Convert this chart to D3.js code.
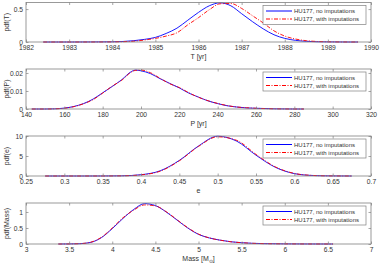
<!DOCTYPE html>
<html><head><meta charset="utf-8">
<script src="https://cdn.jsdelivr.net/npm/d3@7"></script>
<style>body{margin:0;background:#fff}svg{display:block}text{font-family:Arial,"Liberation Sans",sans-serif}</style>
</head><body><svg id="c" width="381" height="266"></svg>
<script>
// Panel 1: T [yr]
const T_x = [1982.4,1983,1983.5,1984,1984.25,1984.5,1984.75,1985,1985.25,1985.5,1985.75,1986,1986.25,1986.5,1986.75,1987,1987.25,1987.5,1987.75,1988,1988.25,1988.5,1988.75,1989,1989.5,1989.7];
const T_noImp = [0,0,0.001,0.003,0.008,0.02,0.04,0.07,0.13,0.21,0.33,0.45,0.55,0.595,0.55,0.43,0.31,0.20,0.11,0.055,0.025,0.01,0.004,0.002,0,0];
const T_imp   = [0,0,0,0.002,0.005,0.012,0.03,0.055,0.09,0.14,0.26,0.37,0.49,0.58,0.585,0.51,0.40,0.29,0.17,0.09,0.045,0.02,0.008,0.003,0,0];
const T_xticks = [1982,1983,1984,1985,1986,1987,1988,1989,1990];
const T_yticks = [0,0.5];
// Panel 2: P [yr]
const P_x = [143,150,155,160,165,170,175,180,185,190,195,197,200,205,210,215,220,225,230,235,240,245,250,255,260,270,280,285];
const P_noImp = [0,0,0.0001,0.0005,0.0014,0.003,0.0055,0.009,0.0125,0.0163,0.0208,0.0216,0.0212,0.0196,0.0168,0.0142,0.0117,0.0088,0.0066,0.0045,0.003,0.0018,0.0011,0.0006,0.0004,0.0001,0,0];
const P_imp   = [0,0,0.0001,0.0004,0.0013,0.0029,0.0052,0.0088,0.0127,0.016,0.0205,0.0214,0.0216,0.0201,0.0170,0.0140,0.0119,0.0090,0.0065,0.0046,0.0031,0.0019,0.0011,0.0007,0.0004,0.0001,0,0];
const P_xticks = [140,160,180,200,220,240,260,280,300,320];
const P_yticks = [0,0.01,0.02];
// Panel 3: e
const e_x = [0.275,0.3,0.325,0.35,0.375,0.4,0.425,0.45,0.475,0.5,0.525,0.55,0.575,0.6,0.625,0.65,0.675];
const e_noImp = [0,0,0,0.005,0.05,0.32,1.3,3.9,7.5,9.95,8.7,5.2,2.2,0.6,0.12,0.02,0];
const e_imp   = [0,0,0,0.004,0.04,0.28,1.2,3.8,7.4,9.8,8.9,5.4,2.3,0.65,0.13,0.02,0];
const e_xticks = [0.25,0.3,0.35,0.4,0.45,0.5,0.55,0.6,0.65,0.7];
const e_yticks = [0,5,10];
// Panel 4: Mass [M_sun]
const M_x = [3.375,3.5,3.625,3.75,3.875,4.0,4.125,4.25,4.375,4.5,4.625,4.75,4.875,5.0,5.125,5.25,5.375,5.5,5.75,6.0,6.25,6.5,6.56];
const M_noImp = [0,0.002,0.01,0.05,0.2,0.48,0.8,1.08,1.26,1.2,1.0,0.75,0.5,0.3,0.19,0.12,0.07,0.04,0.012,0.004,0.001,0,0];
const M_imp   = [0,0.002,0.011,0.055,0.21,0.5,0.82,1.06,1.22,1.19,1.01,0.76,0.51,0.31,0.19,0.12,0.07,0.04,0.012,0.004,0.001,0,0];
const M_xticks = [3,3.5,4,4.5,5,5.5,6,6.5,7];
const M_yticks = [0,0.5,1];

const legendLabels = ["HU177, no imputations","HU177, with imputations"];

const svg = d3.select("#c");
const L = 26, R = 371;
const axisCol = "#808080", textCol = "#333";

function panel(cfg){
  const x = d3.scaleLinear().domain(cfg.xdom).range([L,R]);
  const y = d3.scaleLinear().domain(cfg.ydom).range([cfg.bottom,cfg.top]);
  const g = svg.append("g");
  // curves
  const line = d3.line().x(d=>x(d[0])).y(d=>y(d[1])).curve(d3.curveMonotoneX);
  g.append("path").datum(cfg.xs.map((v,i)=>[v,cfg.a[i]])).attr("d",line)
    .attr("fill","none").attr("stroke","#0000ff").attr("stroke-width",0.9);
  g.append("path").datum(cfg.xs.map((v,i)=>[v,cfg.b[i]])).attr("d",line)
    .attr("fill","none").attr("stroke","#ff0000").attr("stroke-width",0.9).attr("stroke-dasharray","4,1.5,1,1.5");
  // axes
  const tl = 2.5;
  const bx = d3.axisBottom(x).tickValues(cfg.xticks).tickSize(-tl).tickPadding(3).tickFormat(cfg.xfmt||d3.format("~g"));
  const tx = d3.axisTop(x).tickValues(cfg.xticks).tickSize(-tl).tickFormat("");
  const ly = d3.axisLeft(y).tickValues(cfg.yticks).tickSize(-tl).tickPadding(3).tickFormat(d3.format("~g"));
  const ry = d3.axisRight(y).tickValues(cfg.yticks).tickSize(-tl).tickFormat("");
  const axes = [
    g.append("g").attr("transform",`translate(0,${cfg.bottom})`).call(bx),
    g.append("g").attr("transform",`translate(0,${cfg.top})`).call(tx),
    g.append("g").attr("transform",`translate(${L},0)`).call(ly),
    g.append("g").attr("transform",`translate(${R},0)`).call(ry)
  ];
  axes.forEach(a=>{
    a.select(".domain").remove();
    a.selectAll("line").attr("stroke",axisCol).attr("stroke-width",0.7);
    a.selectAll("text").attr("fill",textCol).style("font-size","6.7px").attr("font-family","Arial, 'Liberation Sans', sans-serif");
  });
  axes[0].selectAll("text").attr("dy","0.75em");
  g.append("rect").attr("x",L).attr("y",cfg.top).attr("width",R-L).attr("height",cfg.bottom-cfg.top)
    .attr("fill","none").attr("stroke",axisCol).attr("stroke-width",0.8);
  // labels
  const xl = g.append("text").attr("x",(L+R)/2).attr("y",cfg.bottom+17).attr("text-anchor","middle")
    .attr("fill",textCol).style("font-size","7px");
  if(cfg.xlabelParts){
    xl.append("tspan").text(cfg.xlabelParts[0]);
    xl.append("tspan").text(cfg.xlabelParts[1]).attr("dy","1.5").style("font-size","5px");
    xl.append("tspan").text(cfg.xlabelParts[2]).attr("dy","-1.5");
  } else xl.text(cfg.xlabel);
  g.append("text").attr("transform",`translate(9,${(cfg.top+cfg.bottom)/2}) rotate(-90)`)
    .attr("text-anchor","middle").attr("fill",textCol).style("font-size","7px").text(cfg.ylabel);
  // legend
  const lx = 263, lw = 103, ly0 = cfg.top+3, lh = 19;
  g.append("rect").attr("x",lx).attr("y",ly0).attr("width",lw).attr("height",lh)
    .attr("fill","#fff").attr("stroke",axisCol).attr("stroke-width",0.7);
  const items = [{c:"#0000ff",d:null},{c:"#ff0000",d:"4,1.5,1,1.5"}];
  items.forEach((it,i)=>{
    const yy = ly0 + 5.5 + i*8;
    const ln = g.append("line").attr("x1",lx+3).attr("x2",lx+29).attr("y1",yy).attr("y2",yy)
      .attr("stroke",it.c).attr("stroke-width",1);
    if(it.d) ln.attr("stroke-dasharray",it.d);
    g.append("text").attr("x",lx+31).attr("y",yy).attr("dy","0.35em").attr("fill",textCol)
      .style("font-size","6px").text(legendLabels[i]);
  });
}

panel({xs:T_x,a:T_noImp,b:T_imp,xdom:[1982,1990],ydom:[0,0.6],top:2.5,bottom:42,xticks:T_xticks,yticks:T_yticks,xlabel:"T [yr]",ylabel:"pdf(T)",xfmt:d3.format("d")});
panel({xs:P_x,a:P_noImp,b:P_imp,xdom:[140,320],ydom:[0,0.0222],top:69,bottom:109,xticks:P_xticks,yticks:P_yticks,xlabel:"P [yr]",ylabel:"pdf(P)"});
panel({xs:e_x,a:e_noImp,b:e_imp,xdom:[0.25,0.7],ydom:[0,10],top:136,bottom:176,xticks:e_xticks,yticks:e_yticks,xlabel:"e",ylabel:"pdf(e)"});
panel({xs:M_x,a:M_noImp,b:M_imp,xdom:[3,7],ydom:[0,1.28],top:203,bottom:244,xticks:M_xticks,yticks:M_yticks,xlabelParts:["Mass [M","\u2299","]"],ylabel:"pdf(Mass)"});
</script></body></html>
